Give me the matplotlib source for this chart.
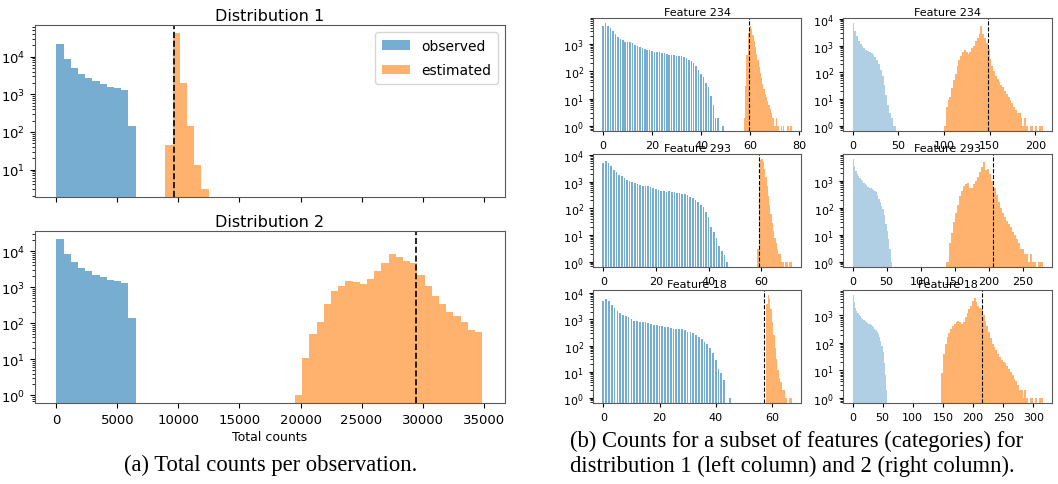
import numpy as np
import matplotlib
matplotlib.use("Agg")
import matplotlib.pyplot as plt
from matplotlib.ticker import MultipleLocator

# ---------------- data: (a) total counts per observation ----------------
total_bin_width = 590
obs_total_start = 0
obs_total_counts = [22000, 8500, 4900, 3460, 2770, 2200, 1900, 1550, 1470, 1330, 140]
est1_total_start = 8930
est1_total_counts = [45, 43000, 1950, 140, 13, 3]
est2_total_start = 19550
est2_total_counts = [1, 10.5, 50, 110, 345, 760, 1060, 1440, 1380, 1190, 1650, 2780,
                     4600, 8300, 6900, 5300, 4700, 2200, 1100, 560, 345, 200, 155,
                     110, 63, 56]
true_total = [9600, 29500]
dist_titles = ["Distribution 1", "Distribution 2"]

# ---------------- data: (b) per-feature counts ----------------
feature_titles = ["Feature 234", "Feature 293", "Feature 18"]

# distribution 1 (left column): observed counts at integer values 0,1,2,...
f234_d1_obs = [4430, 5860, 4680, 3850, 3080, 2320, 1800, 1570, 1360, 1220, 1150, 1150,
               1090, 920, 820, 755, 715, 656, 620, 586, 555, 524, 510, 495, 470, 480,
               430, 407, 395, 385, 374, 374, 364, 335, 308, 267, 232, 201, 161, 115,
               82, 62, 37, 27, 12, 6, 2, 2, 0, 1]
f293_d1_obs = [4820, 5890, 4960, 3730, 2800, 2230, 1820, 1580, 1330, 1190, 1030, 945,
               890, 842, 773, 710, 690, 670, 632, 580, 533, 503, 449, 462, 424, 436,
               412, 400, 378, 367, 347, 337, 318, 260, 239, 207, 180, 139, 110, 72,
               46, 21, 13, 8, 4, 2.5, 1.8, 1]
f18_d1_obs = [4870, 6310, 4870, 3550, 2740, 2170, 1730, 1500, 1300, 1190, 1060, 890,
              840, 820, 790, 770, 710, 670, 610, 600, 580, 550, 515, 500, 487, 434,
              434, 422, 422, 387, 335, 325, 307, 251, 218, 173, 141, 115, 80, 52, 28,
              13, 9, 5, 0, 1]
# distribution 1 estimated counts (bins of width d1_est_width starting at *_start)
d1_est_width = 0.5
f234_d1_est_start = 57.5
f234_d1_est = [2, 30, 400, 2500, 4200, 4500, 3500, 2200, 1300, 800, 450, 250, 150, 90,
               55, 35, 22, 15, 11, 8, 6, 4, 3, 2, 2, 1, 2, 1, 1, 0, 1, 0, 1, 0, 0, 1,
               1, 0, 1]
f293_d1_est_start = 58.5
f293_d1_est = [3, 800, 6500, 7000, 5500, 3000, 1500, 700, 300, 130, 60, 28, 14, 8, 5,
               3, 2, 2, 1, 1, 0, 1, 1, 0, 1, 1]
f18_d1_est_start = 58.0
f18_d1_est = [4000, 8500, 6000, 2500, 800, 250, 80, 30, 12, 6, 4, 2, 2, 1, 1, 0, 1, 1]
true_d1 = [59.8, 59.2, 57.1]

# distribution 2 (right column)
d2_obs_width = 2
f234_d2_obs = [6900, 3500, 2300, 1500, 1150, 950, 800, 700, 640, 580, 520, 460, 380,
               300, 200, 120, 70, 35, 14, 6, 3, 2, 1, 1]
f293_d2_obs = [6300, 3500, 2300, 1750, 1450, 1250, 1100, 980, 860, 760, 680, 610, 560,
               520, 490, 450, 410, 370, 310, 220, 160, 120, 90, 55, 25, 14, 7, 3, 1]
f18_d2_obs = [5500, 3000, 1900, 1450, 1200, 1050, 930, 820, 750, 680, 630, 590, 550,
              510, 470, 440, 410, 370, 330, 300, 260, 220, 170, 120, 75, 45, 18, 7, 2]
f234_d2_est_start, f234_d2_est_width = 100, 2
f234_d2_est = [1, 5, 9, 12, 25, 50, 90, 170, 280, 420, 600, 680, 560, 490, 580, 780,
               1000, 1500, 1900, 2600, 5500, 2600, 2000, 1300, 750, 320, 180, 110, 75,
               58, 45, 35, 28, 20, 16, 12, 9, 7, 5, 4, 3, 3, 2, 1, 2, 1, 0, 1, 1, 0, 1,
               0, 1, 1]
f293_d2_est_start, f293_d2_est_width = 138, 3
f293_d2_est = [1, 5, 12, 30, 65, 130, 270, 420, 620, 760, 850, 560, 560, 760, 1000,
               1400, 2100, 3300, 4800, 2600, 2800, 1800, 950, 520, 300, 170, 100, 65,
               45, 32, 25, 19, 13, 10, 7, 5, 3, 3, 2, 2, 1, 2, 1, 1, 0, 1, 1]
f18_d2_est_start, f18_d2_est_width = 147, 3
f18_d2_est = [8, 40, 90, 160, 230, 310, 420, 500, 580, 640, 600, 500, 600, 850, 1200,
              1700, 2300, 3300, 4500, 3200, 2300, 1800, 1700, 1000, 650, 400, 250, 150,
              90, 70, 55, 40, 30, 24, 20, 18, 15, 11, 9, 7, 5, 4, 3, 2, 2, 1, 2, 1, 0,
              1, 1, 0, 1, 0, 1, 1]
true_d2 = [148.5, 206, 215.5]

# ---------------- styling ----------------
C_OBS = "#1f77b4"
C_EST = "#ff7f0e"
SPINE = "0.35"
plt.rcParams["font.family"] = ["DejaVu Sans"]
plt.rcParams["axes.edgecolor"] = SPINE
plt.rcParams["axes.linewidth"] = 0.8

fig = plt.figure(figsize=(10.58, 4.85), dpi=100)
W, H = 1058.0, 485.0


def add_ax(left, top, right, bottom):
    return fig.add_axes([left / W, 1 - bottom / H, (right - left) / W, (bottom - top) / H])


def log_ylim(ax, *series):
    vals = np.concatenate([np.asarray(s, float) for s in series])
    vals = vals[vals > 0]
    lo, hi = np.log10(vals.min()), np.log10(vals.max())
    m = 0.05 * (hi - lo)
    ax.set_ylim(10 ** (lo - m), 10 ** (hi + m))


def edges_bar(ax, start, width, counts, color, alpha):
    counts = np.asarray(counts, float)
    x = start + width * np.arange(len(counts))
    return ax.bar(x, counts, width=width, align="edge", color=color, alpha=alpha,
                  linewidth=0)


# ---------------- (a) ----------------
ax_a1 = add_ax(35, 26, 505, 198)
ax_a2 = add_ax(35, 232, 505, 404)
ax_a2.sharex(ax_a1)
for i, ax in enumerate([ax_a1, ax_a2]):
    ax.set_yscale("log")
    h_obs = edges_bar(ax, obs_total_start, total_bin_width, obs_total_counts, C_OBS, 0.6)
    if i == 0:
        est = est1_total_counts
        h_est = edges_bar(ax, est1_total_start, total_bin_width, est, C_EST, 0.6)
    else:
        est = est2_total_counts
        h_est = edges_bar(ax, est2_total_start, total_bin_width, est, C_EST, 0.6)
    ax.axvline(true_total[i], color="black", linestyle="--", linewidth=1.2)
    log_ylim(ax, obs_total_counts, est)
    ax.set_title(dist_titles[i], fontsize=11.5, pad=3.5)
    ax.tick_params(labelsize=9.5)
    if i == 0:
        ax.legend([h_obs, h_est], ["observed", "estimated"], loc="upper right",
                  fontsize=10, handlelength=2.0, labelspacing=0.75,
                  borderpad=0.5)
        ax.tick_params(labelbottom=False)
ax_a1.set_xlim(-1750, 36750)
ax_a1.xaxis.set_major_locator(MultipleLocator(5000))
ax_a2.set_xlabel("Total counts", fontsize=9, labelpad=3)

# ---------------- (b) ----------------
rows = [(19, 132), (155, 268), (291, 404)]
d1_obs = [f234_d1_obs, f293_d1_obs, f18_d1_obs]
d1_est = [(f234_d1_est_start, f234_d1_est), (f293_d1_est_start, f293_d1_est),
          (f18_d1_est_start, f18_d1_est)]
d2_obs = [f234_d2_obs, f293_d2_obs, f18_d2_obs]
d2_est = [(f234_d2_est_start, f234_d2_est_width, f234_d2_est),
          (f293_d2_est_start, f293_d2_est_width, f293_d2_est),
          (f18_d2_est_start, f18_d2_est_width, f18_d2_est)]

for r, (top, bottom) in enumerate(rows):
    # left column: distribution 1
    ax = add_ax(593, top, 801, bottom)
    ax.set_yscale("log")
    obs = np.asarray(d1_obs[r], float)
    ax.bar(np.arange(len(obs)), obs, width=0.62, color=C_OBS, alpha=0.6, linewidth=0)
    st, est = d1_est[r]
    edges_bar(ax, st, d1_est_width, est, C_EST, 0.6)
    ax.axvline(true_d1[r], color="black", linestyle="--", linewidth=0.8)
    log_ylim(ax, obs, est)
    ax.xaxis.set_major_locator(MultipleLocator(20))
    ax.set_title(feature_titles[r], fontsize=8, pad=2)
    ax.tick_params(labelsize=8, length=3)

    # right column: distribution 2
    ax = add_ax(843, top, 1052, bottom)
    ax.set_yscale("log")
    obs = d2_obs[r]
    edges_bar(ax, 0, d2_obs_width, obs, C_OBS, 0.35)
    st, w, est = d2_est[r]
    edges_bar(ax, st, w, est, C_EST, 0.6)
    ax.axvline(true_d2[r], color="black", linestyle="--", linewidth=0.8)
    log_ylim(ax, obs, est)
    ax.xaxis.set_major_locator(MultipleLocator(50))
    ax.set_title(feature_titles[r], fontsize=8, pad=2)
    ax.tick_params(labelsize=8, length=3)

# ---------------- captions ----------------
serif = ["Liberation Serif", "DejaVu Serif"]
fig.text(271 / W, 1 - 465 / H, "(a) Total counts per observation.", ha="center",
         va="center", family=serif, fontsize=16.3)
fig.text(570 / W, 1 - 441 / H, "(b) Counts for a subset of features (categories) for",
         ha="left", va="center", family=serif, fontsize=16.3)
fig.text(570 / W, 1 - 466 / H, "distribution 1 (left column) and 2 (right column).",
         ha="left", va="center", family=serif, fontsize=16.3)

fig.savefig("out.png", dpi=100)
